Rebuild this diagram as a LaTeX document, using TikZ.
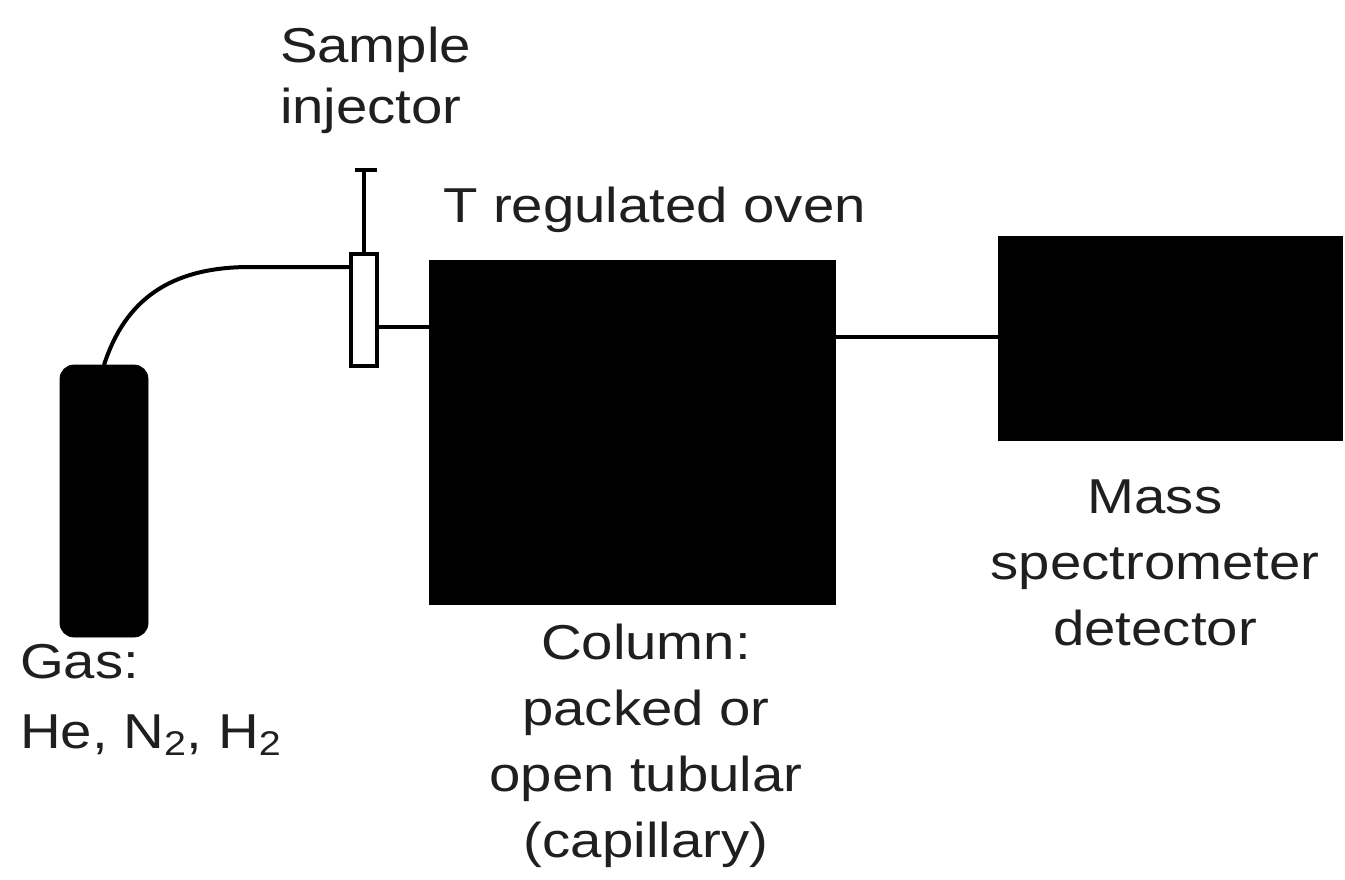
\documentclass[tikz,border=0pt]{standalone}
\usepackage{fontspec}
\setmainfont{Liberation Sans}[FakeStretch=1.15]
\usetikzlibrary{calc}
\begin{document}
\begin{tikzpicture}[x=0.5pt,y=-0.5pt,
  solid/.style={draw=black,fill=black,inner sep=0pt,outer sep=0pt},
  pipe/.style={draw=black,line width=2pt},
  lbl/.style={inner sep=0pt,outer sep=0pt,text=black!88,font=\fontsize{24.5}{33}\selectfont}]
\useasboundingbox (0,0) rectangle (1345,879);
% units
\node[solid,rounded corners=7pt,minimum width=44pt,minimum height=136pt,anchor=north west] (cyl) at (60,365) {};
\node[draw=black,line width=2pt,fill=white,inner sep=0pt,outer sep=0pt,minimum width=13pt,minimum height=56pt,anchor=north west] (inj) at (351,254) {};
\node[solid,minimum width=203pt,minimum height=172pt,anchor=north west] (oven) at (429,260) {};
\node[solid,minimum width=172pt,minimum height=102pt,anchor=north west] (ms) at (998,236) {};
% plunger
\coordinate (ptop) at (366,170);
\draw[line width=1.6pt] (inj.north) -- (inj.north |- ptop);
\draw[line width=1.6pt] ($(ptop)+(-11,0)$) -- ($(ptop)+(11,0)$);
% connectors
\coordinate (gasin) at ($(inj.north west)+(0,13)$);
\draw[pipe] (cyl.north) .. controls (125,300) and (170,267) .. (250,267) -- (gasin);
\draw[pipe] ($(inj.north east)+(0,73)$) -- (oven.west |- {$(inj.north east)+(0,73)$});
\draw[pipe] ($(oven.north east)+(0,77)$) -- (ms.west |- {$(oven.north east)+(0,77)$});
% labels
\node[lbl,anchor=base west,align=left,font=\fontsize{24.5}{30.5}\selectfont] (tsample) at (280,123) {Sample\\injector};
\node[lbl,anchor=base west] (toven) at (443,222) {T regulated oven};
\node[lbl,anchor=base,align=center] (tcol) at (646,857) {Column:\\packed or\\open tubular\\(capillary)};
\node[lbl,anchor=base,align=center,font=\fontsize{24.5}{33}\selectfont] (tms) at (1155,645) {Mass\\spectrometer\\detector};
\node[lbl,anchor=base west,align=left] (tgas) at (20,748) {Gas:\\[2pt]He, N\textsubscript{2}, H\textsubscript{2}};
\end{tikzpicture}
\end{document}
